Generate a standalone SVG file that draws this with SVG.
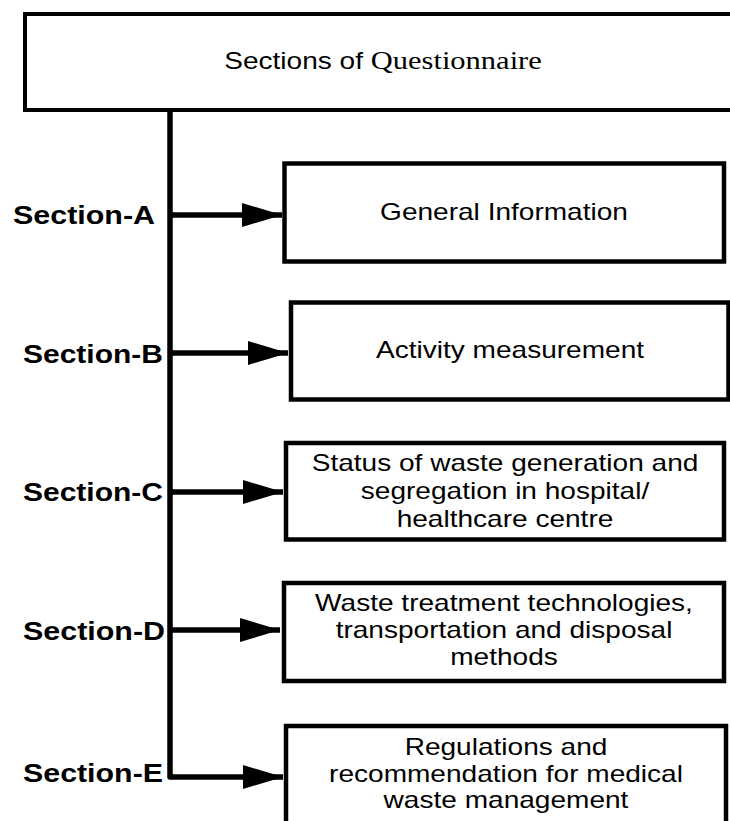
<svg xmlns="http://www.w3.org/2000/svg" width="730" height="821" viewBox="0 0 730 821">
<style>
.box{fill:#fff;stroke:#000;stroke-width:4.5}
.bt{font-family:"Liberation Sans",Arial,sans-serif;font-size:23px;fill:#000;text-anchor:middle}
.lab{font-family:"Liberation Sans",Arial,sans-serif;font-size:25px;font-weight:bold;fill:#000}
.conn{fill:none;stroke:#000;stroke-width:5.5;stroke-linejoin:round}
</style>
<defs>
<marker id="ah" markerUnits="userSpaceOnUse" markerWidth="42" markerHeight="26" refX="40" refY="12" orient="auto">
<path d="M0,0 L40,12 L0,24 z" fill="#000"/>
</marker>
</defs>
<rect width="730" height="821" fill="#fff"/>
<g id="root">
<rect x="25" y="14" width="730" height="96" fill="#fff" stroke="#000" stroke-width="4"/>
<text transform="translate(383,69) scale(1.22,1)" text-anchor="middle" fill="#000"><tspan font-family="Liberation Sans, Arial, sans-serif" font-size="23">Sections of </tspan><tspan font-family="Liberation Serif, Times New Roman, serif" font-size="25">Questionnaire</tspan></text>
</g>
<g id="connectors">
<path class="conn" d="M170,108 V777 H283" marker-end="url(#ah)"/>
<path class="conn" d="M170,215 H282" marker-end="url(#ah)"/>
<path class="conn" d="M170,353 H288" marker-end="url(#ah)"/>
<path class="conn" d="M170,492 H283" marker-end="url(#ah)"/>
<path class="conn" d="M170,630 H280" marker-end="url(#ah)"/>
</g>
<g id="labels">
<text class="lab" x="13" y="224" textLength="142" lengthAdjust="spacingAndGlyphs">Section-A</text>
<text class="lab" x="23" y="363" textLength="140" lengthAdjust="spacingAndGlyphs">Section-B</text>
<text class="lab" x="23" y="501" textLength="140" lengthAdjust="spacingAndGlyphs">Section-C</text>
<text class="lab" x="23" y="640" textLength="142" lengthAdjust="spacingAndGlyphs">Section-D</text>
<text class="lab" x="23" y="782" textLength="140" lengthAdjust="spacingAndGlyphs">Section-E</text>
</g>
<g id="nodeA">
<rect class="box" x="284.5" y="163.5" width="439.5" height="98"/>
<text class="bt" transform="translate(504,220) scale(1.22,1)">General Information</text>
</g>
<g id="nodeB">
<rect class="box" x="291" y="302.5" width="437.5" height="97"/>
<text class="bt" transform="translate(510,358) scale(1.22,1)">Activity measurement</text>
</g>
<g id="nodeC">
<rect class="box" x="286" y="443" width="438" height="96.5"/>
<text class="bt" transform="translate(505,471) scale(1.22,1)">Status of waste generation and</text>
<text class="bt" transform="translate(505,499) scale(1.22,1)">segregation in hospital/</text>
<text class="bt" transform="translate(505,527) scale(1.22,1)">healthcare centre</text>
</g>
<g id="nodeD">
<rect class="box" x="284" y="583" width="440" height="98"/>
<text class="bt" transform="translate(504,611) scale(1.22,1)">Waste treatment technologies,</text>
<text class="bt" transform="translate(504,638) scale(1.22,1)">transportation and disposal</text>
<text class="bt" transform="translate(504,665) scale(1.22,1)">methods</text>
</g>
<g id="nodeE">
<rect class="box" x="286" y="726" width="440" height="130"/>
<text class="bt" transform="translate(506,755) scale(1.22,1)">Regulations and</text>
<text class="bt" transform="translate(506,782) scale(1.22,1)">recommendation for medical</text>
<text class="bt" transform="translate(506,808) scale(1.22,1)">waste management</text>
</g>
</svg>
